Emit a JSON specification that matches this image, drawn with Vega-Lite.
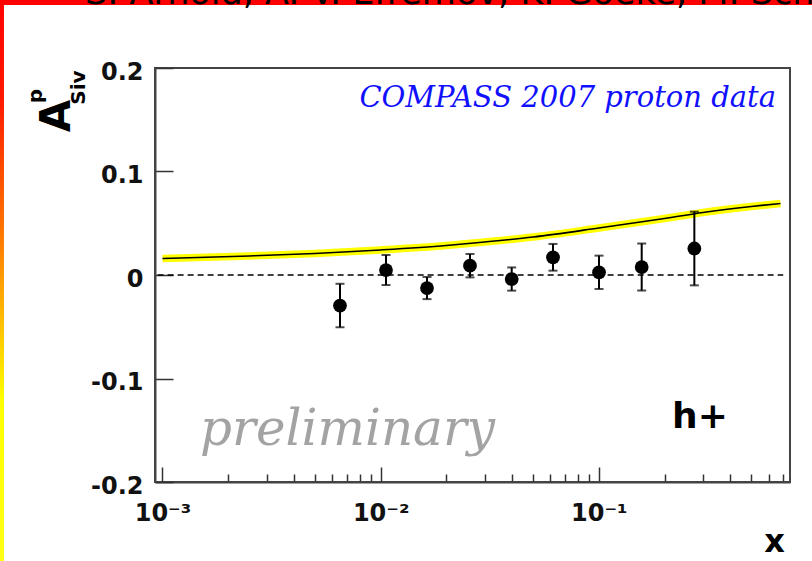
{
  "$schema": "https://vega.github.io/schema/vega-lite/v6.json",
  "width": 635,
  "height": 414,
  "autosize": "none",
  "padding": {"left": 155, "top": 68, "right": 22, "bottom": 79},
  "background": "white",
  "datasets": {
    "points": [
      {"x": 0.00651, "y": -0.0295, "err": 0.021},
      {"x": 0.01058, "y": 0.0048, "err": 0.0145},
      {"x": 0.01631, "y": -0.0126, "err": 0.0107},
      {"x": 0.02567, "y": 0.009, "err": 0.0113},
      {"x": 0.03987, "y": -0.0039, "err": 0.0112},
      {"x": 0.06165, "y": 0.0171, "err": 0.0129},
      {"x": 0.1002, "y": 0.0026, "err": 0.0161},
      {"x": 0.1572, "y": 0.0077, "err": 0.0227},
      {"x": 0.274, "y": 0.0256, "err": 0.0356}
    ],
    "theory": [
      {"x": 0.001, "y": 0.0159},
      {"x": 0.0025, "y": 0.0184},
      {"x": 0.005, "y": 0.0208},
      {"x": 0.01, "y": 0.0242},
      {"x": 0.02, "y": 0.0285},
      {"x": 0.03, "y": 0.0319},
      {"x": 0.05, "y": 0.0367},
      {"x": 0.1, "y": 0.0454},
      {"x": 0.2, "y": 0.0546},
      {"x": 0.3, "y": 0.0604},
      {"x": 0.5, "y": 0.0662},
      {"x": 0.68, "y": 0.0691}
    ]
  },
  "layer": [
    {
      "data": {"values": [{}]},
      "mark": {
        "type": "rect",
        "clip": false,
        "fill": {
          "gradient": "linear",
          "x1": 0, "y1": 0, "x2": 0, "y2": 1,
          "stops": [
            {"offset": 0, "color": "#ff0000"},
            {"offset": 0.18, "color": "#ff1800"},
            {"offset": 0.45, "color": "#ff8400"},
            {"offset": 0.72, "color": "#ffff00"},
            {"offset": 1, "color": "#ffff14"}
          ]
        }
      },
      "encoding": {
        "x": {"datum": 0.0001799},
        "x2": {"datum": 0.0001877},
        "y": {"datum": 0.27},
        "y2": {"datum": -0.2763}
      }
    },
    {
      "data": {"values": [{}]},
      "mark": {"type": "rect", "clip": false, "fill": "#ff0000"},
      "encoding": {
        "x": {"datum": 0.0001799},
        "x2": {"datum": 1.0},
        "y": {"datum": 0.27},
        "y2": {"datum": 0.26087}
      }
    },
    {
      "data": {"values": [{}]},
      "mark": {
        "type": "text",
        "clip": false,
        "text": "S. Arnold, A. V. Efremov, K. Goeke, M. Schlegel, P. Schweitzer",
        "align": "left",
        "baseline": "alphabetic",
        "font": "DejaVu Sans",
        "fontSize": 35,
        "color": "#000000"
      },
      "encoding": {
        "x": {"datum": 0.0004414},
        "y": {"datum": 0.26184}
      }
    },
    {
      "data": {"name": "theory"},
      "mark": {"type": "line", "color": "#ffff00", "strokeWidth": 7.5, "interpolate": "monotone"},
      "encoding": {
        "x": {"field": "x", "type": "quantitative", "axis": {"title": null}},
        "y": {"field": "y", "type": "quantitative", "axis": {"title": null}}
      }
    },
    {
      "data": {"name": "theory"},
      "mark": {"type": "line", "color": "#000000", "strokeWidth": 1.6, "interpolate": "monotone"},
      "encoding": {
        "x": {"field": "x", "type": "quantitative", "axis": {"title": null}},
        "y": {"field": "y", "type": "quantitative", "axis": {"title": null}}
      }
    },
    {
      "data": {"values": [{}]},
      "mark": {"type": "rule", "color": "#000000", "strokeWidth": 1.3, "strokeDash": [6, 4]},
      "encoding": {
        "x": {"datum": 0.00095},
        "x2": {"datum": 0.7},
        "y": {"datum": 0}
      }
    },
    {
      "data": {"name": "points"},
      "mark": {
        "type": "errorbar",
        "ticks": {"size": 9, "thickness": 2, "color": "#000000"},
        "rule": {"strokeWidth": 2, "color": "#000000"}
      },
      "encoding": {
        "x": {"field": "x", "type": "quantitative", "axis": {"title": null}},
        "y": {"field": "y", "type": "quantitative", "axis": {"title": null}},
        "yError": {"field": "err"}
      }
    },
    {
      "data": {"name": "points"},
      "mark": {"type": "point", "shape": "circle", "filled": true, "size": 190, "color": "#000000", "opacity": 1},
      "encoding": {
        "x": {
          "field": "x",
          "type": "quantitative",
          "scale": {"type": "log", "domain": [0.000924, 0.752], "nice": false},
          "axis": {
            "title": null,
            "values": [0.001, 0.002, 0.003, 0.004, 0.005, 0.006, 0.007, 0.008, 0.009,
                       0.01, 0.02, 0.03, 0.04, 0.05, 0.06, 0.07, 0.08, 0.09,
                       0.1, 0.2, 0.3, 0.4, 0.5, 0.6, 0.7],
            "labelExpr": "datum.value == 0.001 ? '10⁻³' : datum.value == 0.01 ? '10⁻²' : datum.value == 0.1 ? '10⁻¹' : ''",
            "tickSize": {"condition": {"test": "datum.value == 0.001 || datum.value == 0.01 || datum.value == 0.1", "value": -15}, "value": -8},
            "labelPadding": 34,
            "labelBaseline": "top",
            "labelFlush": false,
            "labelOverlap": false
          }
        },
        "y": {
          "field": "y",
          "type": "quantitative",
          "scale": {"domain": [-0.2, 0.2], "nice": false, "zero": false},
          "axis": {
            "title": null,
            "values": [-0.2, -0.1, 0, 0.1, 0.2],
            "labelExpr": "datum.value == 0 ? '0' : (datum.value < 0 ? '-' + format(-datum.value, '.1f') : format(datum.value, '.1f'))",
            "tickSize": -18,
            "labelPadding": 30,
            "labelOffset": 4,
            "labelFlush": false,
            "labelOverlap": false
          }
        }
      }
    },
    {
      "data": {"values": [{}]},
      "mark": {
        "type": "text", "clip": false,
        "text": "COMPASS 2007 proton data",
        "align": "right", "baseline": "alphabetic",
        "font": "DejaVu Serif", "fontStyle": "italic", "fontSize": 29,
        "color": "#1010ff"
      },
      "encoding": {
        "x": {"datum": 0.6487},
        "y": {"datum": 0.1626}
      }
    },
    {
      "data": {"values": [{}]},
      "mark": {
        "type": "text", "clip": false,
        "text": "preliminary",
        "align": "left", "baseline": "alphabetic",
        "font": "DejaVu Serif", "fontStyle": "italic", "fontSize": 50,
        "color": "#a3a3a3"
      },
      "encoding": {
        "x": {"datum": 0.001486},
        "y": {"datum": -0.16425}
      }
    },
    {
      "data": {"values": [{}]},
      "mark": {
        "type": "text", "clip": false,
        "text": "h+",
        "align": "left", "baseline": "alphabetic",
        "font": "DejaVu Sans", "fontWeight": "bold", "fontSize": 36,
        "color": "#000000"
      },
      "encoding": {
        "x": {"datum": 0.2165},
        "y": {"datum": -0.14783}
      }
    },
    {
      "data": {"values": [{}]},
      "mark": {
        "type": "text", "clip": false,
        "text": "x",
        "align": "right", "baseline": "alphabetic",
        "font": "DejaVu Sans", "fontWeight": "bold", "fontSize": 32,
        "color": "#000000"
      },
      "encoding": {
        "x": {"datum": 0.7133},
        "y": {"datum": -0.2676}
      }
    },
    {
      "data": {"values": [{}]},
      "mark": {
        "type": "text", "clip": false,
        "text": "A",
        "angle": 270, "align": "center", "baseline": "alphabetic",
        "font": "DejaVu Sans", "fontWeight": "bold", "fontSize": 42,
        "color": "#000000"
      },
      "encoding": {
        "x": {"datum": 0.0003768},
        "y": {"datum": 0.15362}
      }
    },
    {
      "data": {"values": [{}]},
      "mark": {
        "type": "text", "clip": false,
        "text": "Siv",
        "angle": 270, "align": "center", "baseline": "alphabetic",
        "font": "DejaVu Sans", "fontWeight": "bold", "fontSize": 20,
        "color": "#000000"
      },
      "encoding": {
        "x": {"datum": 0.0004414},
        "y": {"datum": 0.18116}
      }
    },
    {
      "data": {"values": [{}]},
      "mark": {
        "type": "text", "clip": false,
        "text": "p",
        "angle": 270, "align": "center", "baseline": "alphabetic",
        "font": "DejaVu Sans", "fontWeight": "bold", "fontSize": 20,
        "color": "#000000"
      },
      "encoding": {
        "x": {"datum": 0.0002804},
        "y": {"datum": 0.17295}
      }
    }
  ],
  "config": {
    "view": {"stroke": "#444444", "strokeWidth": 2},
    "axis": {
      "grid": false,
      "domainColor": "#444444",
      "domainWidth": 2,
      "tickColor": "#333333",
      "tickWidth": 1.5,
      "labelFont": "DejaVu Sans",
      "labelFontWeight": "bold",
      "labelFontSize": 24,
      "labelColor": "#111111"
    }
  }
}
